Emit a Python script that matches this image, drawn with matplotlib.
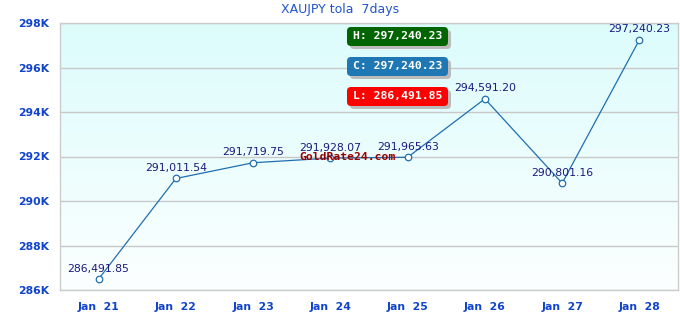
import matplotlib
matplotlib.use("Agg")
import matplotlib.pyplot as plt
import numpy as np
from matplotlib.patches import FancyBboxPatch

categories = ["Jan  21", "Jan  22", "Jan  23", "Jan  24", "Jan  25", "Jan  26", "Jan  27", "Jan  28"]
values = [286491.85, 291011.54, 291719.75, 291928.07, 291965.63, 294591.20, 290801.16, 297240.23]
yticks = [286000, 288000, 290000, 292000, 294000, 296000, 298000]
ytick_labels = ["286K", "288K", "290K", "292K", "294K", "296K", "298K"]
title = "XAUJPY tola  7days"

W, H = 680, 320
fig = plt.figure(figsize=(W / 100, H / 100), dpi=100)
fig.patch.set_facecolor("white")
ax = fig.add_axes([60 / W, 1 - 290 / H, 618 / W, 267 / H])

ax.set_xlim(-0.5, len(categories) - 0.5)
ax.set_ylim(286000, 298000)

# gradient background
grad = np.linspace(0, 1, 256).reshape(-1, 1)
top = np.array([0xdc, 0xfc, 0xfc]) / 255
bot = np.array([0xfc, 0xff, 0xff]) / 255
img = top[None, None, :] * (1 - grad[:, :, None]) + bot[None, None, :] * grad[:, :, None]
ax.imshow(img, extent=[0, 1, 0, 1], transform=ax.transAxes, aspect="auto", zorder=0)

for y in yticks:
    ax.axhline(y, color="#c8c8c8", lw=1, zorder=1)

for s in ax.spines.values():
    s.set_color("#cccccc")
    s.set_linewidth(1)

x = np.arange(len(categories))
ax.plot(x, values, color="#1f6fb0", lw=0.9, zorder=3)
ax.scatter(x, values, s=22, facecolor="white", edgecolor="#1f6fb0", linewidth=0.9, zorder=4)

for xi, v in zip(x, values):
    ax.annotate(f"{v:,.2f}", (xi, v), xytext=(0, 4), textcoords="offset points",
                ha="center", va="bottom", fontsize=7.8, color="#1a1a80", zorder=5)

ax.set_xticks(x)
ax.set_xticklabels(categories, fontsize=7.8, fontweight="bold", color="#1144cc")
ax.set_yticks(yticks)
ax.set_yticklabels(ytick_labels, fontsize=7.8, fontweight="bold", color="#1144cc")
ax.tick_params(length=0, pad=8)
ax.tick_params(axis="x", pad=9)

fig.text(340 / W, 1 - 10 / H, title, ha="center", va="center", fontsize=9, color="#2255cc")

# watermark
fig.text(348 / W, 1 - 157 / H, "GoldRate24.com", ha="center", va="center",
         family="DejaVu Sans Mono", fontweight="bold", fontsize=8.2, color="#990000", zorder=6)

# H / C / L boxes
boxes = [
    ("H", max(values), "#006400", 27),
    ("C", values[-1], "#1f78b4", 57),
    ("L", min(values), "#ff0000", 87),
]
for lab, val, col, ytop in boxes:
    x0, x1, h = 347, 448, 19
    shadow = FancyBboxPatch((x0 + 3, H - ytop - h - 3), x1 - x0, h,
                            boxstyle="round,pad=0,rounding_size=4",
                            transform=None, facecolor="#bbbbbb", edgecolor="none", zorder=7)
    box = FancyBboxPatch((x0, H - ytop - h), x1 - x0, h,
                         boxstyle="round,pad=0,rounding_size=4",
                         transform=None, facecolor=col, edgecolor="none", zorder=8)
    fig.patches.extend([shadow, box])
    fig.text((x0 + x1) / 2 / W, 1 - (ytop + h / 2) / H, f"{lab}: {val:,.2f}",
             ha="center", va="center", family="DejaVu Sans Mono", fontweight="bold",
             fontsize=8.2, color="white", zorder=9)

fig.savefig("out.png", dpi=100)
